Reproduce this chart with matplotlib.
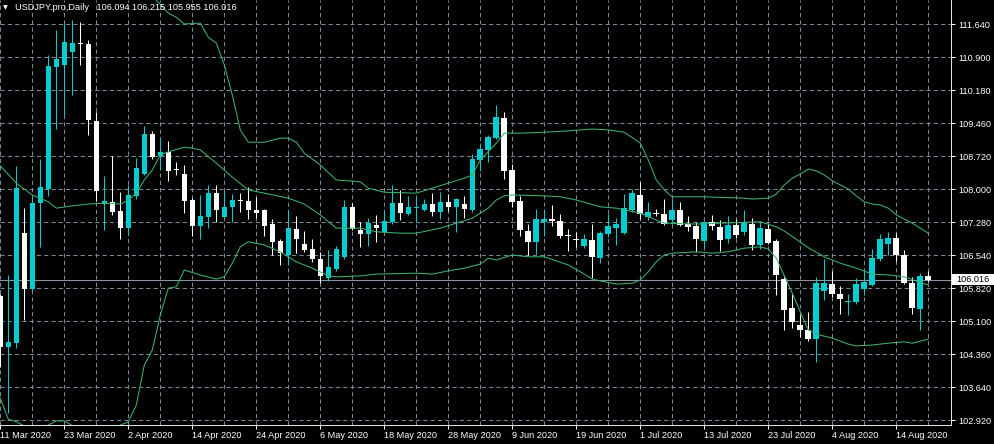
import numpy as np
import pandas as pd
import matplotlib
matplotlib.use("Agg")
import matplotlib.pyplot as plt
from matplotlib.patches import Rectangle
from matplotlib.transforms import blended_transform_factory

######################################
# DATA  (USDJPY.pro, daily bars)
######################################

dates = pd.bdate_range("2020-03-11", periods=117)

opens = [105.66, 104.54, 104.62, 107.04, 105.81, 107.70, 108.01, 110.69, 110.74, 111.02,
         111.20, 111.20, 109.51, 107.68, 107.73, 107.53, 107.15, 107.86, 108.34, 109.22,
         108.74, 108.83, 108.44, 108.34, 107.77, 107.20, 107.40, 107.92, 107.40, 107.62,
         107.76, 107.75, 107.55, 107.55, 107.24, 106.87, 106.56, 107.13, 106.80, 106.69,
         106.47, 106.05, 106.25, 106.51, 107.62, 107.11, 107.02, 107.22, 107.07, 107.29,
         107.70, 107.46, 107.60, 107.55, 107.68, 107.50, 107.73, 107.62, 107.68, 107.55,
         108.65, 108.87, 109.13, 109.57, 108.43, 107.75, 107.09, 106.85, 107.29, 107.35,
         107.31, 107.00, 106.89, 106.76, 106.89, 106.49, 107.02, 107.15, 107.04, 107.55,
         107.88, 107.40, 107.48, 107.46, 107.33, 107.55, 107.24, 107.20, 106.87, 107.29,
         107.18, 106.91, 107.22, 107.07, 107.24, 106.78, 107.13, 106.87, 106.03, 105.39,
         105.02, 104.91, 104.71, 105.77, 105.92, 105.70, 105.52, 105.53, 105.81, 105.90,
         106.47, 106.80, 106.93, 106.56, 105.94, 105.37, 106.094]
highs = [105.70, 106.12, 108.52, 107.59, 107.84, 108.67, 110.96, 111.51, 111.66, 111.73,
         111.68, 111.29, 109.71, 108.30, 108.74, 107.94, 108.10, 108.69, 109.40, 109.29,
         109.13, 109.07, 108.60, 108.54, 107.81, 107.88, 108.10, 108.10, 107.97, 107.90,
         107.92, 108.05, 107.84, 107.57, 107.35, 106.91, 107.55, 107.42, 107.09, 106.91,
         106.63, 106.67, 106.76, 107.77, 107.70, 107.29, 107.37, 107.44, 107.53, 108.10,
         107.99, 107.86, 107.84, 107.79, 107.92, 107.94, 107.90, 107.81, 107.86, 108.78,
         109.02, 109.20, 109.86, 109.71, 108.56, 107.86, 107.24, 107.57, 107.57, 107.66,
         107.46, 107.13, 107.07, 107.02, 107.24, 107.09, 107.46, 107.37, 107.90, 108.01,
         108.17, 107.73, 107.57, 107.79, 107.79, 107.73, 107.42, 107.29, 107.31, 107.44,
         107.33, 107.42, 107.35, 107.55, 107.37, 107.31, 107.26, 106.91, 106.12, 105.70,
         105.24, 105.30, 106.07, 106.47, 106.21, 105.88, 105.70, 106.05, 106.23, 106.69,
         107.02, 107.07, 107.04, 106.67, 106.07, 106.16, 106.215]
lows = [104.10, 103.08, 104.51, 105.13, 105.77, 106.74, 107.86, 109.33, 109.64, 110.08,
        110.74, 109.20, 107.75, 107.11, 107.44, 106.91, 107.00, 107.79, 108.32, 108.67,
        108.43, 108.19, 108.32, 107.48, 106.98, 106.91, 107.15, 107.29, 107.38, 107.29,
        107.51, 107.35, 107.38, 106.98, 106.56, 106.34, 106.34, 106.61, 106.63, 106.41,
        105.94, 105.99, 106.21, 106.47, 107.11, 106.74, 106.76, 106.85, 107.05, 107.24,
        107.33, 107.44, 107.29, 107.53, 107.42, 107.35, 107.53, 107.07, 107.38, 107.51,
        108.41, 108.60, 109.11, 108.23, 107.62, 106.98, 106.56, 106.58, 106.98, 107.20,
        106.93, 106.65, 106.74, 106.72, 106.05, 106.38, 106.96, 106.78, 107.02, 107.51,
        107.35, 107.33, 107.42, 107.22, 107.24, 107.20, 107.09, 106.63, 106.74, 107.11,
        106.65, 106.82, 106.93, 107.00, 106.67, 106.69, 106.80, 105.68, 104.92, 104.95,
        104.76, 104.67, 104.21, 105.57, 105.64, 105.26, 105.24, 105.48, 105.68, 105.88,
        106.43, 106.56, 106.43, 105.92, 105.26, 104.90, 105.955]
closes = [104.54, 104.65, 108.03, 105.81, 107.70, 108.06, 110.72, 110.87, 111.24, 111.22,
          111.19, 109.53, 107.97, 107.75, 107.50, 107.15, 107.88, 108.47, 109.22, 108.72,
          108.83, 108.41, 108.42, 107.75, 107.20, 107.42, 107.92, 107.55, 107.62, 107.77,
          107.74, 107.55, 107.48, 107.20, 106.85, 106.61, 107.15, 106.91, 106.67, 106.47,
          106.10, 106.29, 106.69, 107.62, 107.13, 107.02, 107.26, 107.15, 107.31, 107.70,
          107.48, 107.62, 107.62, 107.68, 107.50, 107.73, 107.62, 107.79, 107.57, 108.67,
          108.89, 109.16, 109.60, 108.41, 107.73, 107.11, 106.85, 107.35, 107.35, 107.31,
          106.98, 106.98, 106.88, 106.91, 106.51, 107.04, 107.20, 107.24, 107.59, 107.92,
          107.46, 107.51, 107.47, 107.24, 107.55, 107.22, 107.18, 106.91, 107.29, 107.20,
          106.89, 107.22, 107.00, 107.26, 106.78, 107.15, 106.82, 106.12, 105.35, 105.08,
          104.91, 104.71, 105.94, 105.94, 105.70, 105.59, 105.53, 105.92, 105.97, 106.49,
          106.91, 106.93, 106.56, 105.94, 105.39, 106.10, 106.016]

# Bollinger bands, read at bar indices
upper_idx = [19, 21, 22, 23, 25, 26, 27, 28, 29, 30, 31, 33, 35, 36, 37, 38, 40, 42, 45, 46,
             48, 52, 54, 58, 59, 60, 62, 63, 65, 68, 71, 74, 76, 78, 80, 81, 82, 83, 84, 88,
             93, 94, 96, 97, 98, 99, 100, 101, 102, 103, 104, 105, 106, 107, 108, 109, 110,
             111, 112, 113, 114, 115, 116]
upper_val = [112.26, 111.88, 111.79, 111.64, 111.66, 111.35, 111.22, 110.74, 110.08, 109.31,
             109.04, 109.04, 109.13, 109.13, 109.04, 108.80, 108.54, 108.21, 108.17, 108.03,
             107.94, 107.92, 108.03, 108.25, 108.32, 108.65, 109.02, 109.24, 109.24, 109.26,
             109.29, 109.33, 109.31, 109.26, 109.02, 108.65, 108.21, 107.99, 107.84, 107.84,
             107.81, 107.79, 107.81, 107.90, 108.10, 108.25, 108.34, 108.45, 108.41, 108.32,
             108.19, 108.10, 108.01, 107.86, 107.73, 107.68, 107.66, 107.59, 107.44, 107.35,
             107.26, 107.15, 107.04]
mid_idx = [0, 2, 4, 6, 7, 9, 11, 13, 15, 16, 17, 18, 19, 20, 21, 23, 24, 25, 27, 29, 31, 33,
           36, 38, 40, 42, 45, 47, 50, 52, 55, 57, 59, 61, 62, 63, 64, 68, 70, 72, 75, 77, 80,
           82, 83, 87, 90, 95, 97, 98, 101, 103, 105, 107, 109, 111, 113, 116]
mid_val = [108.52, 108.14, 107.88, 107.73, 107.59, 107.64, 107.68, 107.70, 107.68, 107.77,
           107.92, 108.21, 108.43, 108.76, 108.83, 108.93, 108.91, 108.87, 108.58, 108.27,
           107.99, 107.92, 107.81, 107.68, 107.44, 107.15, 107.15, 107.07, 107.04, 107.04,
           107.15, 107.26, 107.37, 107.59, 107.77, 107.86, 107.88, 107.86, 107.84, 107.77,
           107.62, 107.59, 107.48, 107.33, 107.26, 107.24, 107.26, 107.29, 107.18, 107.09,
           106.72, 106.52, 106.38, 106.27, 106.14, 106.12, 106.08, 105.90]
lower_idx = [0, 1, 2, 4, 6, 7, 8, 10, 13, 15, 16, 17, 18, 19, 20, 21, 22, 23, 25, 27, 28, 29,
             30, 31, 33, 35, 37, 39, 41, 42, 45, 47, 52, 54, 56, 58, 60, 61, 62, 64, 66, 68,
             71, 73, 74, 75, 77, 79, 80, 81, 82, 83, 84, 87, 89, 91, 93, 95, 96, 97, 98, 99,
             100, 101, 102, 104, 106, 107, 109, 111, 113, 114, 116]
lower_val = [103.41, 102.95, 102.89, 102.71, 102.82, 102.91, 102.91, 102.71, 102.67, 102.82,
             102.89, 103.26, 104.14, 104.47, 105.24, 105.83, 105.86, 106.23, 106.12, 106.03,
             106.08, 106.38, 106.74, 106.85, 106.78, 106.63, 106.41, 106.27, 106.10, 106.08,
             106.10, 106.14, 106.16, 106.14, 106.21, 106.27, 106.36, 106.49, 106.45, 106.56,
             106.52, 106.52, 106.34, 106.14, 106.03, 105.99, 105.92, 105.94, 106.01, 106.19,
             106.41, 106.56, 106.60, 106.63, 106.60, 106.63, 106.71, 106.74, 106.69, 106.49,
             106.10, 105.72, 105.31, 104.91, 104.82, 104.73, 104.60, 104.56, 104.58, 104.62,
             104.65, 104.62, 104.71]

price_ticks = ["102.920", "103.640", "104.360", "105.100", "105.820", "106.540", "107.280",
               "108.000", "108.720", "109.460", "110.180", "110.900", "111.640"]
bid = 106.016
symbol = "USDJPY.pro,Daily"

######################################
# PLOT
######################################

plt.rcParams['font.family'] = ['Liberation Sans', 'DejaVu Sans']
FS = 6.6
UP = '#00ced1'
DOWN = '#ffffff'
BAND = '#3cb371'
GRID = '#778899'

fig = plt.figure(figsize=(9.95, 4.44), dpi=100, facecolor='black')
ax = fig.add_axes([0, 19.5 / 444, 951 / 995, 424.5 / 444])
ax.set_facecolor('black')

o = np.array(opens); h = np.array(highs); l = np.array(lows); c = np.array(closes)
x = np.arange(len(o))
cols = [UP if cc >= oo else DOWN for oo, cc in zip(o, c)]
bottoms = np.minimum(o, c)
heights = np.maximum(np.abs(c - o), 0.022)

ax.vlines(x, l, h, colors=cols, lw=0.75, zorder=3)
ax.bar(x, heights, bottom=bottoms, width=0.7, color=cols, linewidth=0, zorder=4)

# bands drawn on top of the candles, like the terminal does
ax.plot(upper_idx, upper_val, color=BAND, lw=0.75, zorder=5)
ax.plot(mid_idx, mid_val, color=BAND, lw=0.75, zorder=5)
ax.plot(lower_idx, lower_val, color=BAND, lw=0.75, zorder=5)

ax.axhline(bid, color='#8a96a3', lw=0.75, zorder=2)

ax.set_xlim(-0.04, 118.84)
ax.set_ylim(102.832, 112.168)

# y axis on the right
ypos = np.linspace(102.92, 111.64, len(price_ticks))
ax.yaxis.tick_right()
ax.set_yticks(ypos)
ax.set_yticklabels(price_ticks)
ax.tick_params(axis='y', colors='white', labelcolor='white', labelsize=FS,
               length=3, width=0.75, pad=2)

# dates every 8 bars, grid every 4
ax.set_xticks(x[::8])
ax.set_xticklabels([f"{d.day} {d.strftime('%b')} {d.year}" for d in dates[::8]], ha='left')
ax.set_xticks(np.arange(0, 119, 4), minor=True)
ax.tick_params(axis='x', which='major', colors='white', labelcolor='white', labelsize=FS,
               length=3, width=0.75, pad=1.5)
ax.tick_params(axis='x', which='minor', length=0)

ax.set_axisbelow(True)
ax.grid(True, which='both', axis='x', color=GRID, lw=0.75, linestyle=(0, (4, 3)))
ax.grid(True, which='major', axis='y', color=GRID, lw=0.75, linestyle=(0, (4, 3)))

for s in ['top', 'left']:
    ax.spines[s].set_visible(False)
for s in ['right', 'bottom']:
    ax.spines[s].set_color('#e0e0e0')
    ax.spines[s].set_linewidth(0.75)

# bid price box
tr = blended_transform_factory(ax.transAxes, ax.transData)
ax.add_patch(Rectangle((952 / 951, bid - 5.5 * 0.021993), 42 / 951, 11 * 0.021993,
                       transform=tr, facecolor='white', edgecolor='none',
                       clip_on=False, zorder=6))
ax.text(956 / 951, bid, f"{bid:.3f}", transform=tr, color='black', fontsize=FS,
        va='center', ha='left', clip_on=False, zorder=7)

# header
fig.text(3 / 995, 1 - 7.5 / 444, "\u25bc", color='white', fontsize=4.5, va='center',
         family=['DejaVu Sans'])
fig.text(15.5 / 995, 1 - 7.5 / 444,
         f"{symbol}   {opens[-1]:.3f} {highs[-1]:.3f} {lows[-1]:.3f} {closes[-1]:.3f}",
         color='white', fontsize=FS, va='center', ha='left')

fig.savefig('out.png', dpi=100, facecolor='black')
